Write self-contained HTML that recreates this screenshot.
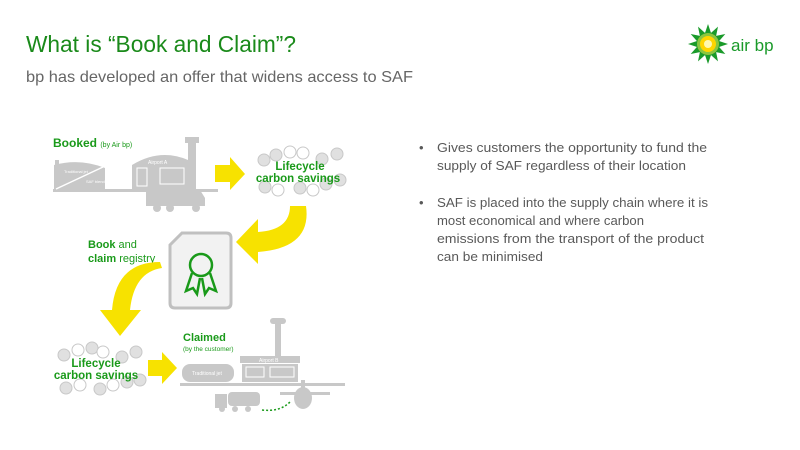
<!DOCTYPE html>
<html><head><meta charset="utf-8"><style>
html,body{margin:0;padding:0;background:#fff;}
svg{display:block;font-family:"Liberation Sans",sans-serif;}
</style></head><body>
<svg width="800" height="450" viewBox="0 0 800 450" xmlns="http://www.w3.org/2000/svg">
<rect width="800" height="450" fill="#fff"/>
<text x="26" y="52" font-size="23" fill="#1a8a1a" textLength="270" lengthAdjust="spacingAndGlyphs">What is “Book and Claim”?</text>
<text x="26" y="82" font-size="16" fill="#666" textLength="387" lengthAdjust="spacingAndGlyphs">bp has developed an offer that widens access to SAF</text>

<!-- logo -->
<g transform="translate(708,44)">
  <g fill="#1a9a2a">
    <polygon points="0,-20 4,-8 -4,-8"/>
    <polygon points="0,-20 4,-8 -4,-8" transform="rotate(30)"/>
    <polygon points="0,-20 4,-8 -4,-8" transform="rotate(60)"/>
    <polygon points="0,-20 4,-8 -4,-8" transform="rotate(90)"/>
    <polygon points="0,-20 4,-8 -4,-8" transform="rotate(120)"/>
    <polygon points="0,-20 4,-8 -4,-8" transform="rotate(150)"/>
    <polygon points="0,-20 4,-8 -4,-8" transform="rotate(180)"/>
    <polygon points="0,-20 4,-8 -4,-8" transform="rotate(210)"/>
    <polygon points="0,-20 4,-8 -4,-8" transform="rotate(240)"/>
    <polygon points="0,-20 4,-8 -4,-8" transform="rotate(270)"/>
    <polygon points="0,-20 4,-8 -4,-8" transform="rotate(300)"/>
    <polygon points="0,-20 4,-8 -4,-8" transform="rotate(330)"/>
  </g>
  <circle r="11" fill="#8cc63f"/>
  <circle r="8" fill="#ffd500"/>
  <circle r="4" fill="#fff8b0"/>
</g>
<text x="731" y="51" font-size="17" fill="#1a9a2a">air bp</text>

<!-- bullets -->
<g font-size="13" fill="#595959">
<text x="419" y="152">•</text>
<text x="437" y="152" textLength="270" lengthAdjust="spacingAndGlyphs">Gives customers the opportunity to fund the</text>
<text x="437" y="170" textLength="249" lengthAdjust="spacingAndGlyphs">supply of SAF regardless of their location</text>
<text x="419" y="207">•</text>
<text x="437" y="207" textLength="271" lengthAdjust="spacingAndGlyphs">SAF is placed into the supply chain where it is</text>
<text x="437" y="225" textLength="207" lengthAdjust="spacingAndGlyphs">most economical and where carbon</text>
<text x="437" y="243" textLength="267" lengthAdjust="spacingAndGlyphs">emissions from the transport of the product</text>
<text x="437" y="261" textLength="106" lengthAdjust="spacingAndGlyphs">can be minimised</text>
</g>

<!-- Booked section -->
<text x="53" y="147" font-size="12" font-weight="bold" fill="#1a9a1a">Booked <tspan font-size="7" font-weight="normal">(by Air bp)</tspan></text>
<g fill="#c8c8c8">
  <path d="M54,190 L54,165 Q80,158 105,168 L105,190 Z"/>
  <rect x="55" y="160" width="4" height="8"/>
  <rect x="53" y="189" width="165" height="3"/>
  <path d="M132,190 L132,165 Q160,148 188,160 L188,190 Z"/>
  <rect x="185" y="137" width="14" height="6"/>
  <rect x="188" y="143" width="8" height="47"/>
  <rect x="146" y="186" width="40" height="20"/>
  <path d="M186,190 L200,190 L205,198 L205,206 L186,206 Z"/>
  <circle cx="157" cy="208" r="4"/><circle cx="170" cy="208" r="4"/><circle cx="196" cy="208" r="4"/>
</g>
<line x1="56" y1="189" x2="103" y2="167" stroke="#fff" stroke-width="1.5"/>
<g fill="#fff" font-size="4">
<text x="64" y="173">Traditional jet</text><text x="86" y="183">SAF blend</text>
<text x="148" y="164" font-size="5">Airport A</text>
</g>
<g stroke="#fff" stroke-width="1" fill="none">
  <rect x="137" y="168" width="10" height="18"/><rect x="160" y="168" width="24" height="16"/>
</g>

<!-- Arrow 1 -->
<polygon points="215,165 230,165 230,157 245,174 230,190 230,182 215,182" fill="#f7e200"/>

<!-- lifecycle top -->
<g fill="#e0e0e0" stroke="#c8c8c8" stroke-width="1">
  <circle cx="264" cy="160" r="6"/><circle cx="276" cy="155" r="6"/><circle cx="290" cy="152" r="6" fill="#fff"/><circle cx="303" cy="153" r="6" fill="#fff"/>
  <circle cx="322" cy="159" r="6"/><circle cx="337" cy="154" r="6"/><circle cx="265" cy="187" r="6"/><circle cx="278" cy="190" r="6" fill="#fff"/>
  <circle cx="300" cy="188" r="6"/><circle cx="313" cy="190" r="6" fill="#fff"/><circle cx="326" cy="184" r="6"/><circle cx="340" cy="180" r="6"/>
</g>
<text x="300" y="170" font-size="11.5" font-weight="bold" fill="#1a9a1a" text-anchor="middle">Lifecycle</text>
<text x="298" y="182" font-size="11.5" font-weight="bold" fill="#1a9a1a" text-anchor="middle">carbon savings</text>

<!-- curved arrow 1 -->
<path d="M306,206 Q312,248 258,252 L258,264 L236,242 L258,219 L258,232 Q290,230 290,206 Z" fill="#f7e200"/>

<!-- registry text -->
<text x="88" y="248" font-size="11" fill="#1a9a1a"><tspan font-weight="bold">Book</tspan> and</text>
<text x="88" y="262" font-size="11" fill="#1a9a1a"><tspan font-weight="bold">claim</tspan> registry</text>

<!-- document -->
<path d="M182,233 L226,233 Q231,233 231,238 L231,303 Q231,308 226,308 L175,308 Q170,308 170,303 L170,245 Z" fill="#f2f2f2" stroke="#c0c0c0" stroke-width="3"/>
<g stroke="#1a9a1a" stroke-width="2.5" fill="none">
  <circle cx="201" cy="265" r="11"/>
  <path d="M192,273 L186,291 L193,288 L197,294 L200,278"/>
  <path d="M210,273 L216,291 L209,288 L205,294 L202,278"/>
</g>

<!-- curved arrow 2 -->
<path d="M162,268 Q134,272 130,310 L141,310 L120,336 L100,310 L112,310 Q116,262 160,262 Z" fill="#f7e200"/>

<!-- lifecycle bottom -->
<g fill="#e0e0e0" stroke="#c8c8c8" stroke-width="1">
  <circle cx="64" cy="355" r="6"/><circle cx="78" cy="350" r="6" fill="#fff"/><circle cx="92" cy="348" r="6"/><circle cx="103" cy="352" r="6" fill="#fff"/>
  <circle cx="122" cy="357" r="6"/><circle cx="136" cy="352" r="6"/><circle cx="66" cy="388" r="6"/><circle cx="80" cy="385" r="6" fill="#fff"/>
  <circle cx="100" cy="389" r="6"/><circle cx="113" cy="385" r="6" fill="#fff"/><circle cx="127" cy="382" r="6"/><circle cx="140" cy="380" r="6"/>
</g>
<text x="96" y="367" font-size="11.5" font-weight="bold" fill="#1a9a1a" text-anchor="middle">Lifecycle</text>
<text x="96" y="379" font-size="11.5" font-weight="bold" fill="#1a9a1a" text-anchor="middle">carbon savings</text>

<!-- arrow 2 -->
<polygon points="148,360 162,360 162,352 177,368 162,384 162,376 148,376" fill="#f7e200"/>

<!-- Claimed -->
<text x="183" y="341" font-size="11" font-weight="bold" fill="#1a9a1a">Claimed</text>
<text x="183" y="351" font-size="6.5" fill="#1a9a1a">(by the customer)</text>
<g fill="#c8c8c8">
  <rect x="270" y="318" width="16" height="6" rx="3"/>
  <rect x="275" y="324" width="6" height="32"/>
  <rect x="240" y="356" width="60" height="7"/>
  <rect x="242" y="364" width="56" height="18"/>
  <rect x="182" y="364" width="52" height="18" rx="8"/>
  <rect x="180" y="383" width="165" height="3"/>
  <rect x="215" y="394" width="12" height="14"/>
  <rect x="228" y="392" width="32" height="14" rx="4"/>
  <circle cx="222" cy="409" r="3"/><circle cx="235" cy="409" r="3"/><circle cx="248" cy="409" r="3"/>
  <ellipse cx="303" cy="398" rx="9" ry="11"/>
  <rect x="280" y="392" width="50" height="3"/>
  <rect x="301" y="380" width="4" height="12"/>
</g>
<g fill="#fff" font-size="5"><text x="259" y="362">Airport B</text><text x="192" y="375">Traditional jet</text></g>
<g stroke="#fff" stroke-width="1" fill="none"><rect x="246" y="367" width="18" height="10"/><rect x="270" y="367" width="24" height="10"/></g>
<path d="M262,410 Q280,412 290,402" stroke="#1a9a1a" stroke-width="1.5" stroke-dasharray="2,2" fill="none"/>
</svg>
</body></html>
